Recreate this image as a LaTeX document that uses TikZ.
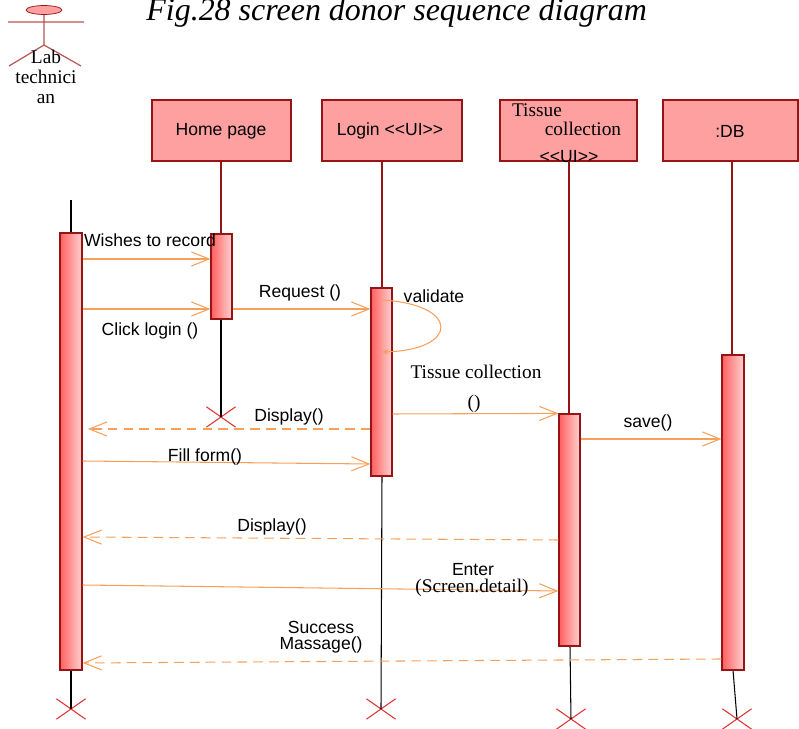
\documentclass[tikz,border=0pt]{standalone}
\usepackage{fontspec}
\setmainfont{Liberation Serif}
\setsansfont{Liberation Sans}
\usepackage{xcolor}
\usepackage{tikz}
\usetikzlibrary{arrows.meta,fit,calc,shapes.geometric,shapes.misc,positioning}
\definecolor{boxred}{RGB}{255,160,160}
\definecolor{edgered}{RGB}{150,20,20}
\definecolor{barlight}{RGB}{255,210,210}
\definecolor{bardark}{RGB}{255,95,95}
\definecolor{msgorange}{RGB}{247,160,90}
\definecolor{killred}{RGB}{225,50,50}
\definecolor{actorred}{RGB}{185,85,85}

\begin{document}
\begin{tikzpicture}[x = 0.02cm, y = -0.02cm]
	\tikzstyle{every node} = [inner sep = 0pt]
	\tikzstyle{lifebox} = [draw = edgered, fill = boxred, line width = 0.8pt]
	\tikzstyle{actbar} = [draw = edgered, left color = bardark, right color = barlight, line width = 0.7pt]
	\tikzstyle{msg} = [draw = msgorange, line width = 0.6pt, -{Straight Barb[length = 10pt, width = 8pt]}]
	\tikzstyle{reply} = [msg, dash pattern = on 5.5pt off 3.5pt]
	\tikzstyle{lbl} = [font = \sffamily\fontsize{10}{12}\selectfont]
	\tikzstyle{slbl} = [font = \fontsize{11}{12}\selectfont]
	\tikzstyle{lifeup} = [draw = edgered, line width = 0.6pt]
	\tikzstyle{lifedown} = [draw = black, line width = 0.6pt]
	\tikzstyle{xmark} = [draw = killred, line width = 0.6pt, cross out, minimum width = 16pt, minimum height = 11pt]
	\useasboundingbox (0, 0) rectangle (799, 729);
% actor
	\path[draw = actorred, line width = 0.7pt] (8, 22) -- (84, 22) (44, 15) -- (44, 45) (44, 45) -- (9, 66) (44, 45) -- (81, 66);
\node[ellipse, draw = edgered, fill = boxred, minimum width = 20.4pt, minimum height = 5.1pt] (0) at (44, 10) {};
\node[align = center, font = \fontsize{11}{11.3}\selectfont] (lab) at (46, 77) {Lab\\technici\\an};
\node[anchor = base west, font = \itshape\fontsize{18.2}{20}\selectfont] (title) at (146, 21) {Fig.28 screen donor sequence diagram};
% objects
\node[lifebox, fit = {(152, 100) (291, 161)}] (1) {};
\node[lifebox, fit = {(322, 100) (462, 161)}] (2) {};
\node[lifebox, fit = {(500, 100) (637, 161)}] (3) {};
\node[lifebox, fit = {(663, 100) (798, 161)}] (4) {};
\node[lbl] (t0) at (221, 131) {Home page};
\node[lbl] (t4) at (390, 131) {Login <{}<UI>{}>};
\node[slbl] (t1) at (537, 110) {Tissue};
\node[slbl] (t2) at (583, 129) {collection};
\node[lbl] (t3) at (569, 157) {<{}<UI>{}>};
\node[lbl] (t5) at (730, 131) {:DB};
% lifelines
\coordinate (top0) at (71, 200);
\node[xmark] (x0) at (71, 709) {};
\node[xmark] (x1) at (221, 417) {};
\node[xmark] (x2) at (381, 709) {};
\node[xmark] (x3) at (571, 719) {};
\node[xmark] (x4) at (737, 719) {};
	\path[lifedown] (top0) -- (71, 233);
	\path[lifeup] (221, 161) -- (221, 234);
	\path[lifeup] (382, 161) -- (382, 288);
	\path[lifeup] (569, 161) -- (569, 414);
	\path[lifeup] (732, 161) -- (732, 355);
	\path[lifedown] (71, 670) -- (x0.center);
	\path[lifedown] (221, 319) -- (x1.center);
	\path[lifedown] (382, 476) -- (x2.center);
	\path[lifedown] (570, 646) -- (x3.center);
	\path[lifedown] (733, 670) -- (x4.center);
% activations
\node[actbar, fit = {(60, 233) (82, 670)}] (a0) {};
\node[actbar, fit = {(211, 234) (232, 319)}] (a1) {};
\node[actbar, fit = {(371, 288) (392, 476)}] (a2) {};
\node[actbar, fit = {(559, 414) (580, 646)}] (a3) {};
\node[actbar, fit = {(722, 355) (744, 670)}] (a4) {};
% messages
	\path[msg] (a0.east |- 0, 259) -- (a1.west |- 0, 259);
\node[lbl] (m1) at (150, 240) {Wishes to record};
	\path[msg] (a0.east |- 0, 309) -- (a1.west |- 0, 309);
\node[lbl] (m2) at (150, 331) {Click login ()};
	\path[msg] (a1.east |- 0, 309) -- (a2.west |- 0, 309);
\node[lbl] (m3) at (300, 293) {Request ()};
	\path[draw = msgorange, line width = 0.6pt, -{Stealth[length = 4pt, width = 3pt]}] (a2.center |- 0, 300) .. controls (460, 304) and (460, 350) .. (a2.center |- 0, 352);
\node[lbl] (m4) at (434, 296) {validate};
	\path[msg] (a2.east |- 0, 414) -- (a3.north west);
\node[slbl] (m5) at (476, 372) {Tissue collection};
\node[slbl] (m5b) at (474, 404) {()};
	\path[msg] (a3.east |- 0, 439) -- (a4.west |- 0, 439);
\node[lbl] (m6) at (648, 423) {save()};
\coordinate (r1) at (88, 429);
	\path[reply] (a2.west |- 0, 429) -- (r1);
\node[lbl] (m7) at (289, 417) {Display()};
	\path[msg] (a0.east |- 0, 461) -- (a2.west |- 0, 464);
\node[lbl] (m8) at (205, 457) {Fill form()};
	\path[reply] (a3.west |- 0, 540) -- (a0.east |- 0, 537);
\node[lbl] (m9) at (272, 527) {Display()};
	\path[msg] (a0.east |- 0, 585) -- (a3.west |- 0, 591);
\node[lbl] (m10) at (473, 570) {Enter};
\node[slbl] (m10b) at (472, 588) {(Screen.detail)};
	\path[reply] (a4.west |- 0, 659) -- (a0.east |- 0, 663);
\node[lbl, align = center, font = \sffamily\fontsize{10}{9}\selectfont] (m11) at (321, 637) {Success\\Massage()};
\end{tikzpicture}
\end{document}
